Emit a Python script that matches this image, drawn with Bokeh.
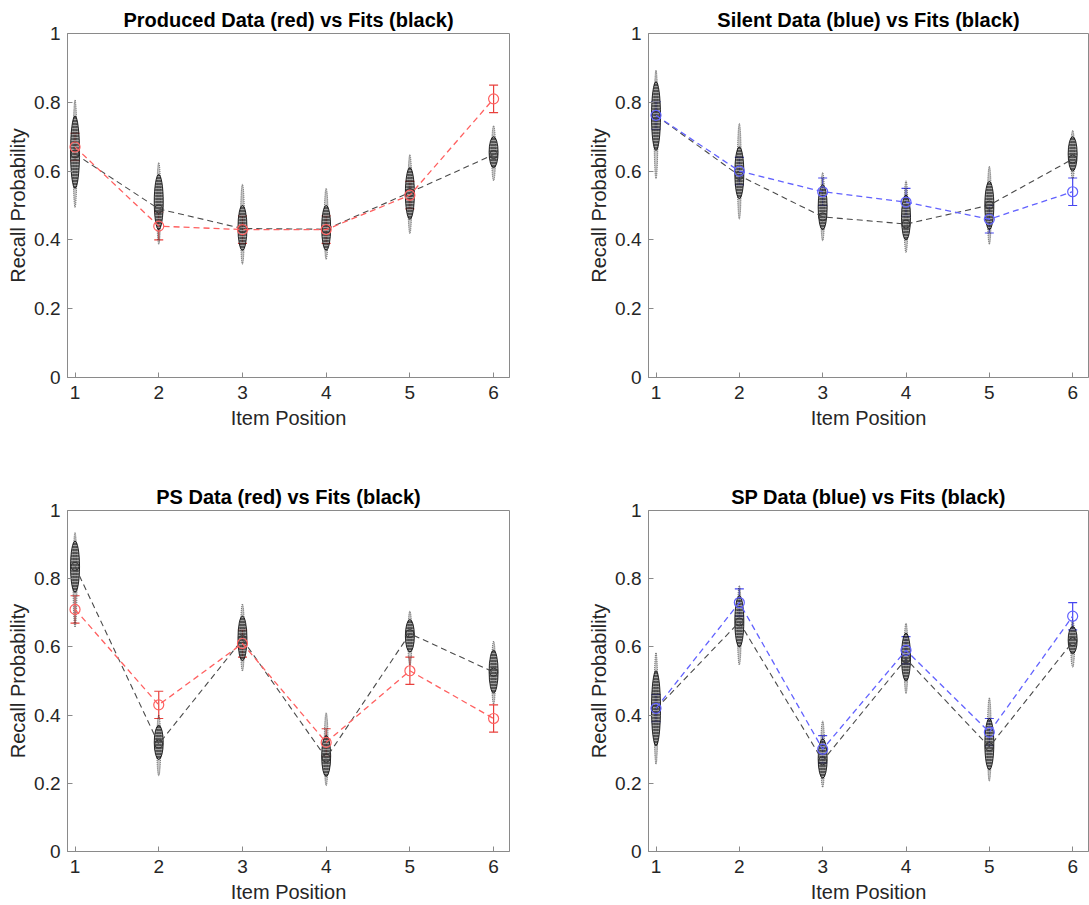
from bokeh.plotting import figure
from bokeh.models import (ColumnDataSource, Whisker, TeeHead, FixedTicker,
                          NumeralTickFormatter)
from bokeh.layouts import column, row
from bokeh.embed import file_html
from bokeh.resources import INLINE

positions = [1, 2, 3, 4, 5, 6]
x_ticks = [1, 2, 3, 4, 5, 6]
y_ticks = [0, 0.2, 0.4, 0.6, 0.8, 1.0]

# ---- Produced (red) ----
produced_data = [0.67, 0.44, 0.43, 0.43, 0.53, 0.81]
produced_err = [0.04, 0.04, 0.04, 0.04, 0.04, 0.04]
produced_fit = [0.65, 0.49, 0.433, 0.431, 0.538, 0.648]
produced_cloud_lo = [0.494, 0.387, 0.329, 0.343, 0.418, 0.572]
produced_cloud_hi = [0.807, 0.625, 0.562, 0.55, 0.648, 0.732]
produced_core_lo = [0.55, 0.43, 0.37, 0.37, 0.46, 0.61]
produced_core_hi = [0.76, 0.59, 0.50, 0.50, 0.61, 0.70]

# ---- Silent (blue) ----
silent_data = [0.762, 0.60, 0.54, 0.51, 0.46, 0.54]
silent_err = [0.04, 0.04, 0.04, 0.04, 0.04, 0.04]
silent_fit = [0.762, 0.587, 0.467, 0.446, 0.501, 0.635]
silent_cloud_lo = [0.577, 0.46, 0.397, 0.363, 0.387, 0.577]
silent_cloud_hi = [0.893, 0.739, 0.596, 0.572, 0.614, 0.718]
silent_core_lo = [0.66, 0.52, 0.43, 0.40, 0.43, 0.60]
silent_core_hi = [0.86, 0.67, 0.56, 0.53, 0.57, 0.70]

# ---- PS (red) ----
ps_data = [0.71, 0.43, 0.61, 0.32, 0.53, 0.39]
ps_err = [0.04, 0.04, 0.04, 0.04, 0.04, 0.04]
ps_fit = [0.836, 0.315, 0.622, 0.274, 0.639, 0.526]
ps_cloud_lo = [0.658, 0.222, 0.529, 0.193, 0.545, 0.432]
ps_cloud_hi = [0.936, 0.40, 0.726, 0.407, 0.705, 0.617]
ps_core_lo = [0.76, 0.27, 0.56, 0.22, 0.585, 0.465]
ps_core_hi = [0.91, 0.37, 0.69, 0.34, 0.68, 0.59]

# ---- SP (blue) ----
sp_data = [0.42, 0.73, 0.30, 0.59, 0.35, 0.69]
sp_err = [0.04, 0.04, 0.04, 0.04, 0.04, 0.04]
sp_fit = [0.418, 0.673, 0.266, 0.565, 0.307, 0.615]
sp_cloud_lo = [0.256, 0.547, 0.188, 0.463, 0.206, 0.54]
sp_cloud_hi = [0.583, 0.78, 0.383, 0.67, 0.451, 0.68]
sp_core_lo = [0.31, 0.60, 0.215, 0.50, 0.24, 0.58]
sp_core_hi = [0.53, 0.75, 0.33, 0.64, 0.39, 0.66]

titles = ["Produced Data (red) vs Fits (black)", "Silent Data (blue) vs Fits (black)",
          "PS Data (red) vs Fits (black)", "SP Data (blue) vs Fits (black)"]

RED_LINE, RED_ERR = "#ff6060", "#e8403c"
BLUE_LINE, BLUE_ERR = "#6262ff", "#4646f0"
TXT = "#262626"
AX = "#8a8a8a"
FONT = "Liberation Sans"


def style_axis(ax):
    ax.major_tick_in = 5
    ax.major_tick_out = 0
    ax.minor_tick_line_color = None
    ax.axis_line_color = AX
    ax.major_tick_line_color = AX
    ax.major_label_text_font = FONT
    ax.major_label_text_color = TXT
    ax.major_label_text_font_size = "19px"
    ax.axis_label_text_font = FONT
    ax.axis_label_text_font_size = "20px"
    ax.axis_label_text_font_style = "normal"
    ax.axis_label_text_color = TXT


def panel(title, data, err, fit, clo, chi, corelo, corehi, lc, ec,
          width, height, bl, br, bt, bb):
    p = figure(width=width, height=height, x_range=(0.91, 6.19), y_range=(0, 1),
               output_backend="svg", toolbar_location=None,
               min_border_left=bl, min_border_right=br,
               min_border_top=bt, min_border_bottom=bb)
    p.xgrid.visible = False
    p.ygrid.visible = False
    p.outline_line_color = AX
    p.outline_line_width = 1
    p.background_fill_color = "white"

    p.title.text = title
    p.title.align = "center"
    p.title.text_font = FONT
    p.title.text_font_size = "20px"
    p.title.text_font_style = "bold"
    p.title.text_color = "black"
    p.title.standoff = 5

    style_axis(p.xaxis[0])
    style_axis(p.yaxis[0])
    p.xaxis.ticker = FixedTicker(ticks=x_ticks)
    p.yaxis.ticker = FixedTicker(ticks=y_ticks)
    p.yaxis.formatter = NumeralTickFormatter(format="0.[0]")
    p.xaxis.axis_label = "Item Position"
    p.yaxis.axis_label = "Recall Probability"
    p.xaxis.major_label_standoff = 8
    p.yaxis.major_label_standoff = 7
    p.xaxis.axis_label_standoff = 5
    p.yaxis.axis_label_standoff = 2

    # cloud of simulated fits
    cmid = [(a + b) / 2 for a, b in zip(clo, chi)]
    ch = [b - a for a, b in zip(clo, chi)]
    kmid = [(a + b) / 2 for a, b in zip(corelo, corehi)]
    kh = [b - a for a, b in zip(corelo, corehi)]
    p.ellipse(x=positions, y=cmid, width=4, height=ch, width_units="screen",
              height_units="data", fill_color="#555555", fill_alpha=0.35,
              line_color="black", line_alpha=0.7, line_width=0.8, line_dash="1 1")
    p.ellipse(x=positions, y=kmid, width=9, height=kh, width_units="screen",
              height_units="data", fill_color="#2a2a2a", fill_alpha=0.7,
              hatch_pattern="horizontal_line", hatch_color="white", hatch_scale=3,
              hatch_weight=0.8, hatch_alpha=0.55,
              line_color="black", line_alpha=0.8, line_width=1)

    # fit means
    p.line(positions, fit, line_color="#4a4a4a", line_dash="6 4", line_width=1.1)
    p.scatter(positions, fit, marker="circle", size=8, fill_color=None,
              line_color="#333333", line_width=1)

    # data
    up = [d + e for d, e in zip(data, err)]
    lo = [d - e for d, e in zip(data, err)]
    src = ColumnDataSource(dict(x=positions, upper=up, lower=lo))
    p.add_layout(Whisker(source=src, base="x", upper="upper", lower="lower",
                         line_color=ec, line_width=1.2,
                         upper_head=TeeHead(size=9, line_color=ec, line_width=1.2),
                         lower_head=TeeHead(size=9, line_color=ec, line_width=1.2)))
    p.line(positions, data, line_color=lc, line_dash="6 4", line_width=1.3)
    p.scatter(positions, data, marker="circle", size=10, fill_color=None,
              line_color=lc, line_width=1.2)
    return p


p1 = panel(titles[0], produced_data, produced_err, produced_fit, produced_cloud_lo,
           produced_cloud_hi, produced_core_lo, produced_core_hi, RED_LINE, RED_ERR,
           581, 477, 67, 72, 33, 100)
p2 = panel(titles[1], silent_data, silent_err, silent_fit, silent_cloud_lo,
           silent_cloud_hi, silent_core_lo, silent_core_hi, BLUE_LINE, BLUE_ERR,
           508, 477, 67, 1, 33, 100)
p3 = panel(titles[2], ps_data, ps_err, ps_fit, ps_cloud_lo, ps_cloud_hi,
           ps_core_lo, ps_core_hi, RED_LINE, RED_ERR,
           581, 428, 67, 72, 33, 53)
p4 = panel(titles[3], sp_data, sp_err, sp_fit, sp_cloud_lo, sp_cloud_hi,
           sp_core_lo, sp_core_hi, BLUE_LINE, BLUE_ERR,
           508, 428, 67, 1, 33, 53)

layout = column(row(p1, p2), row(p3, p4))
open("out.html", "w").write(file_html(layout, INLINE))
